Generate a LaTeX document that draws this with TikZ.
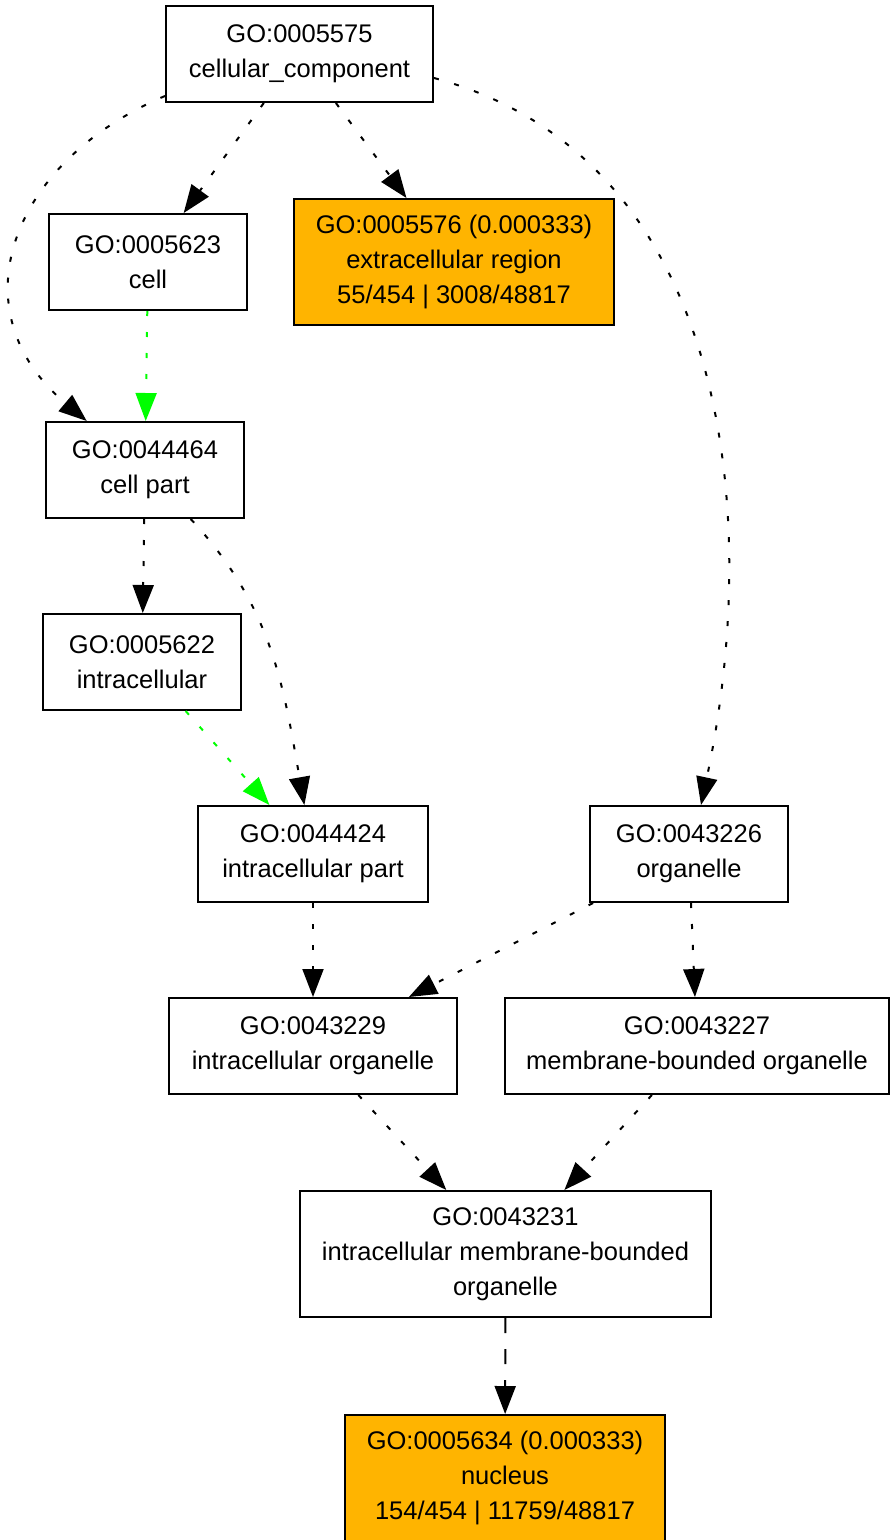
\documentclass[tikz,border=0pt]{standalone}
\usepackage{fontspec}
\setmainfont{Liberation Sans}
\usetikzlibrary{arrows.meta}
\definecolor{sigorange}{RGB}{255,180,0}
\definecolor{isagreen}{RGB}{0,255,0}

\begin{document}
\begin{tikzpicture}[x=1pt,y=-1pt]
      \useasboundingbox (0,0) rectangle (895,1540);

      \begin{scope}[every node/.style={rectangle,draw,line width=2pt,inner sep=0pt,align=center,
          minimum height=96pt,font=\fontsize{25.5}{35}\selectfont}]
        \node[minimum width=267pt] (5575)  at (299.5,54)  {GO:0005575\\cellular\_component};
        \node[minimum width=198pt] (5623)  at (148,262)   {GO:0005623\\cell};
        \node[minimum width=320pt,minimum height=126pt,fill=sigorange] (5576) at (454,262)
          {GO:0005576 (0.000333)\\extracellular region\\55/454 | 3008/48817};
        \node[minimum width=198pt] (44464) at (145,470)   {GO:0044464\\cell part};
        \node[minimum width=198pt] (5622)  at (142,662)   {GO:0005622\\intracellular};
        \node[minimum width=230pt] (44424) at (313,854)   {GO:0044424\\intracellular part};
        \node[minimum width=198pt] (43226) at (689,854)   {GO:0043226\\organelle};
        \node[minimum width=288pt] (43229) at (313,1046)  {GO:0043229\\intracellular organelle};
        \node[minimum width=384pt] (43227) at (697,1046)  {GO:0043227\\membrane-bounded organelle};
        \node[minimum width=411pt,minimum height=126pt] (43231) at (505.5,1254)
          {GO:0043231\\intracellular membrane-bounded\\organelle};
        \node[minimum width=320pt,minimum height=126pt,fill=sigorange] (5634) at (505,1478)
          {GO:0005634 (0.000333)\\nucleus\\154/454 | 11759/48817};
      \end{scope}

      \begin{scope}[every edge/.style={draw,line width=2pt,dash pattern=on 5pt off 16pt,
          -{Triangle[length=28pt,width=21pt]}}]
        \path (5575)  edge (5623);
        \path (5575)  edge (5576);
        \path ([yshift=7pt]5575.south west) edge[out=203,in=140,looseness=1.3] (44464);
        \path ([yshift=-24pt]5575.east) edge[out=-15,in=78] ([xshift=12pt]43226.north);
        \path (5623)  edge[isagreen] (44464);
        \path (44464) edge (5622);
        \path (44464) edge[out=-47,in=100] (44424);
        \path (5622)  edge[isagreen] (44424);
        \path (44424) edge (43229);
        \path (43226) edge (43229);
        \path (43226) edge (43227);
        \path (43229) edge (43231);
        \path (43227) edge (43231);
        \path (43231) edge[dash pattern=on 15pt off 16pt] (5634);
      \end{scope}

    \end{tikzpicture}
\end{document}
